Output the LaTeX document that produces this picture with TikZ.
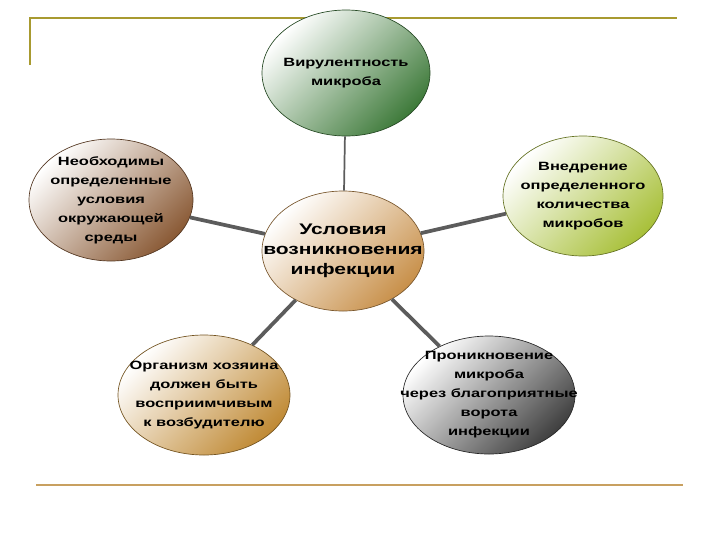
\documentclass[tikz,border=0pt]{standalone}
\usepackage{fontspec}
\newfontfamily\labelfont[FakeStretch=1.37]{Liberation Sans}
\usetikzlibrary{shapes.geometric}
\definecolor{framegold}{HTML}{A89A30}
\definecolor{rulegold}{HTML}{C8A060}
\definecolor{linkgray}{HTML}{5C5C5C}
\definecolor{virgreen}{HTML}{3E7A3A}
\definecolor{sredabrown}{HTML}{8A5A35}
\definecolor{usltan}{HTML}{C8904A}
\definecolor{vnedrlime}{HTML}{A8C03A}
\definecolor{orggold}{HTML}{C08A35}
\definecolor{prongray}{HTML}{404040}
\tikzset{every picture/.style={line width=0.75pt}}
\tikzset{
  bubble/.style={ellipse, draw=#1!60!black, line width=0.5pt, inner sep=-30pt, align=center,
    top color=white, middle color=#1!15, bottom color=#1, shading angle=45,
    font=\labelfont\bfseries\fontsize{9}{14.25}\selectfont},
  link/.style={draw=linkgray, line width=2.8pt}
}

\begin{document}
\begin{tikzpicture}[x=0.75pt,y=0.75pt,yscale=-1,xscale=1]
\path (0,0) rectangle (720,540); %set diagram size
%Shape: Frame top
\draw [color=framegold, line width=1.5pt] (30,65) -- (30,17.5) -- (677,17.5) ;
%Shape: Frame bottom
\draw [color=rulegold, line width=1.5pt] (36,485) -- (683,485) ;
% Ellipse nodes
\node [bubble=virgreen, minimum width=126pt, minimum height=94.5pt] (vir) at (346,73) {Вирулентность\\микроба};
\node [bubble=sredabrown, minimum width=123pt, minimum height=91.5pt] (sreda) at (111,200) {Необходимы\\определенные\\условия\\окружающей\\среды};
\node [bubble=usltan, minimum width=121.5pt, minimum height=90pt, font=\labelfont\bfseries\fontsize{11.5}{15}\selectfont] (usl) at (343,251) {Условия\\возникновения\\инфекции};
\node [bubble=vnedrlime, minimum width=120pt, minimum height=90pt] (vnedr) at (583,196) {Внедрение\\определенного\\количества\\микробов};
\node [bubble=orggold, minimum width=129pt, minimum height=90pt] (org) at (204,395) {Организм хозяина\\должен быть\\восприимчивым\\к возбудителю};
\node [bubble=prongray, minimum width=129pt, minimum height=88.5pt] (pron) at (489,395) {Проникновение\\микроба\\через благоприятные\\ворота\\инфекции};
% Links
\draw [link, line width=1.3pt] (vir) -- (usl) ;
\draw [link] (sreda) -- (usl) ;
\draw [link] (vnedr) -- (usl) ;
\draw [link] (org) -- (usl) ;
\draw [link] (pron) -- (usl) ;
\end{tikzpicture}
\end{document}
